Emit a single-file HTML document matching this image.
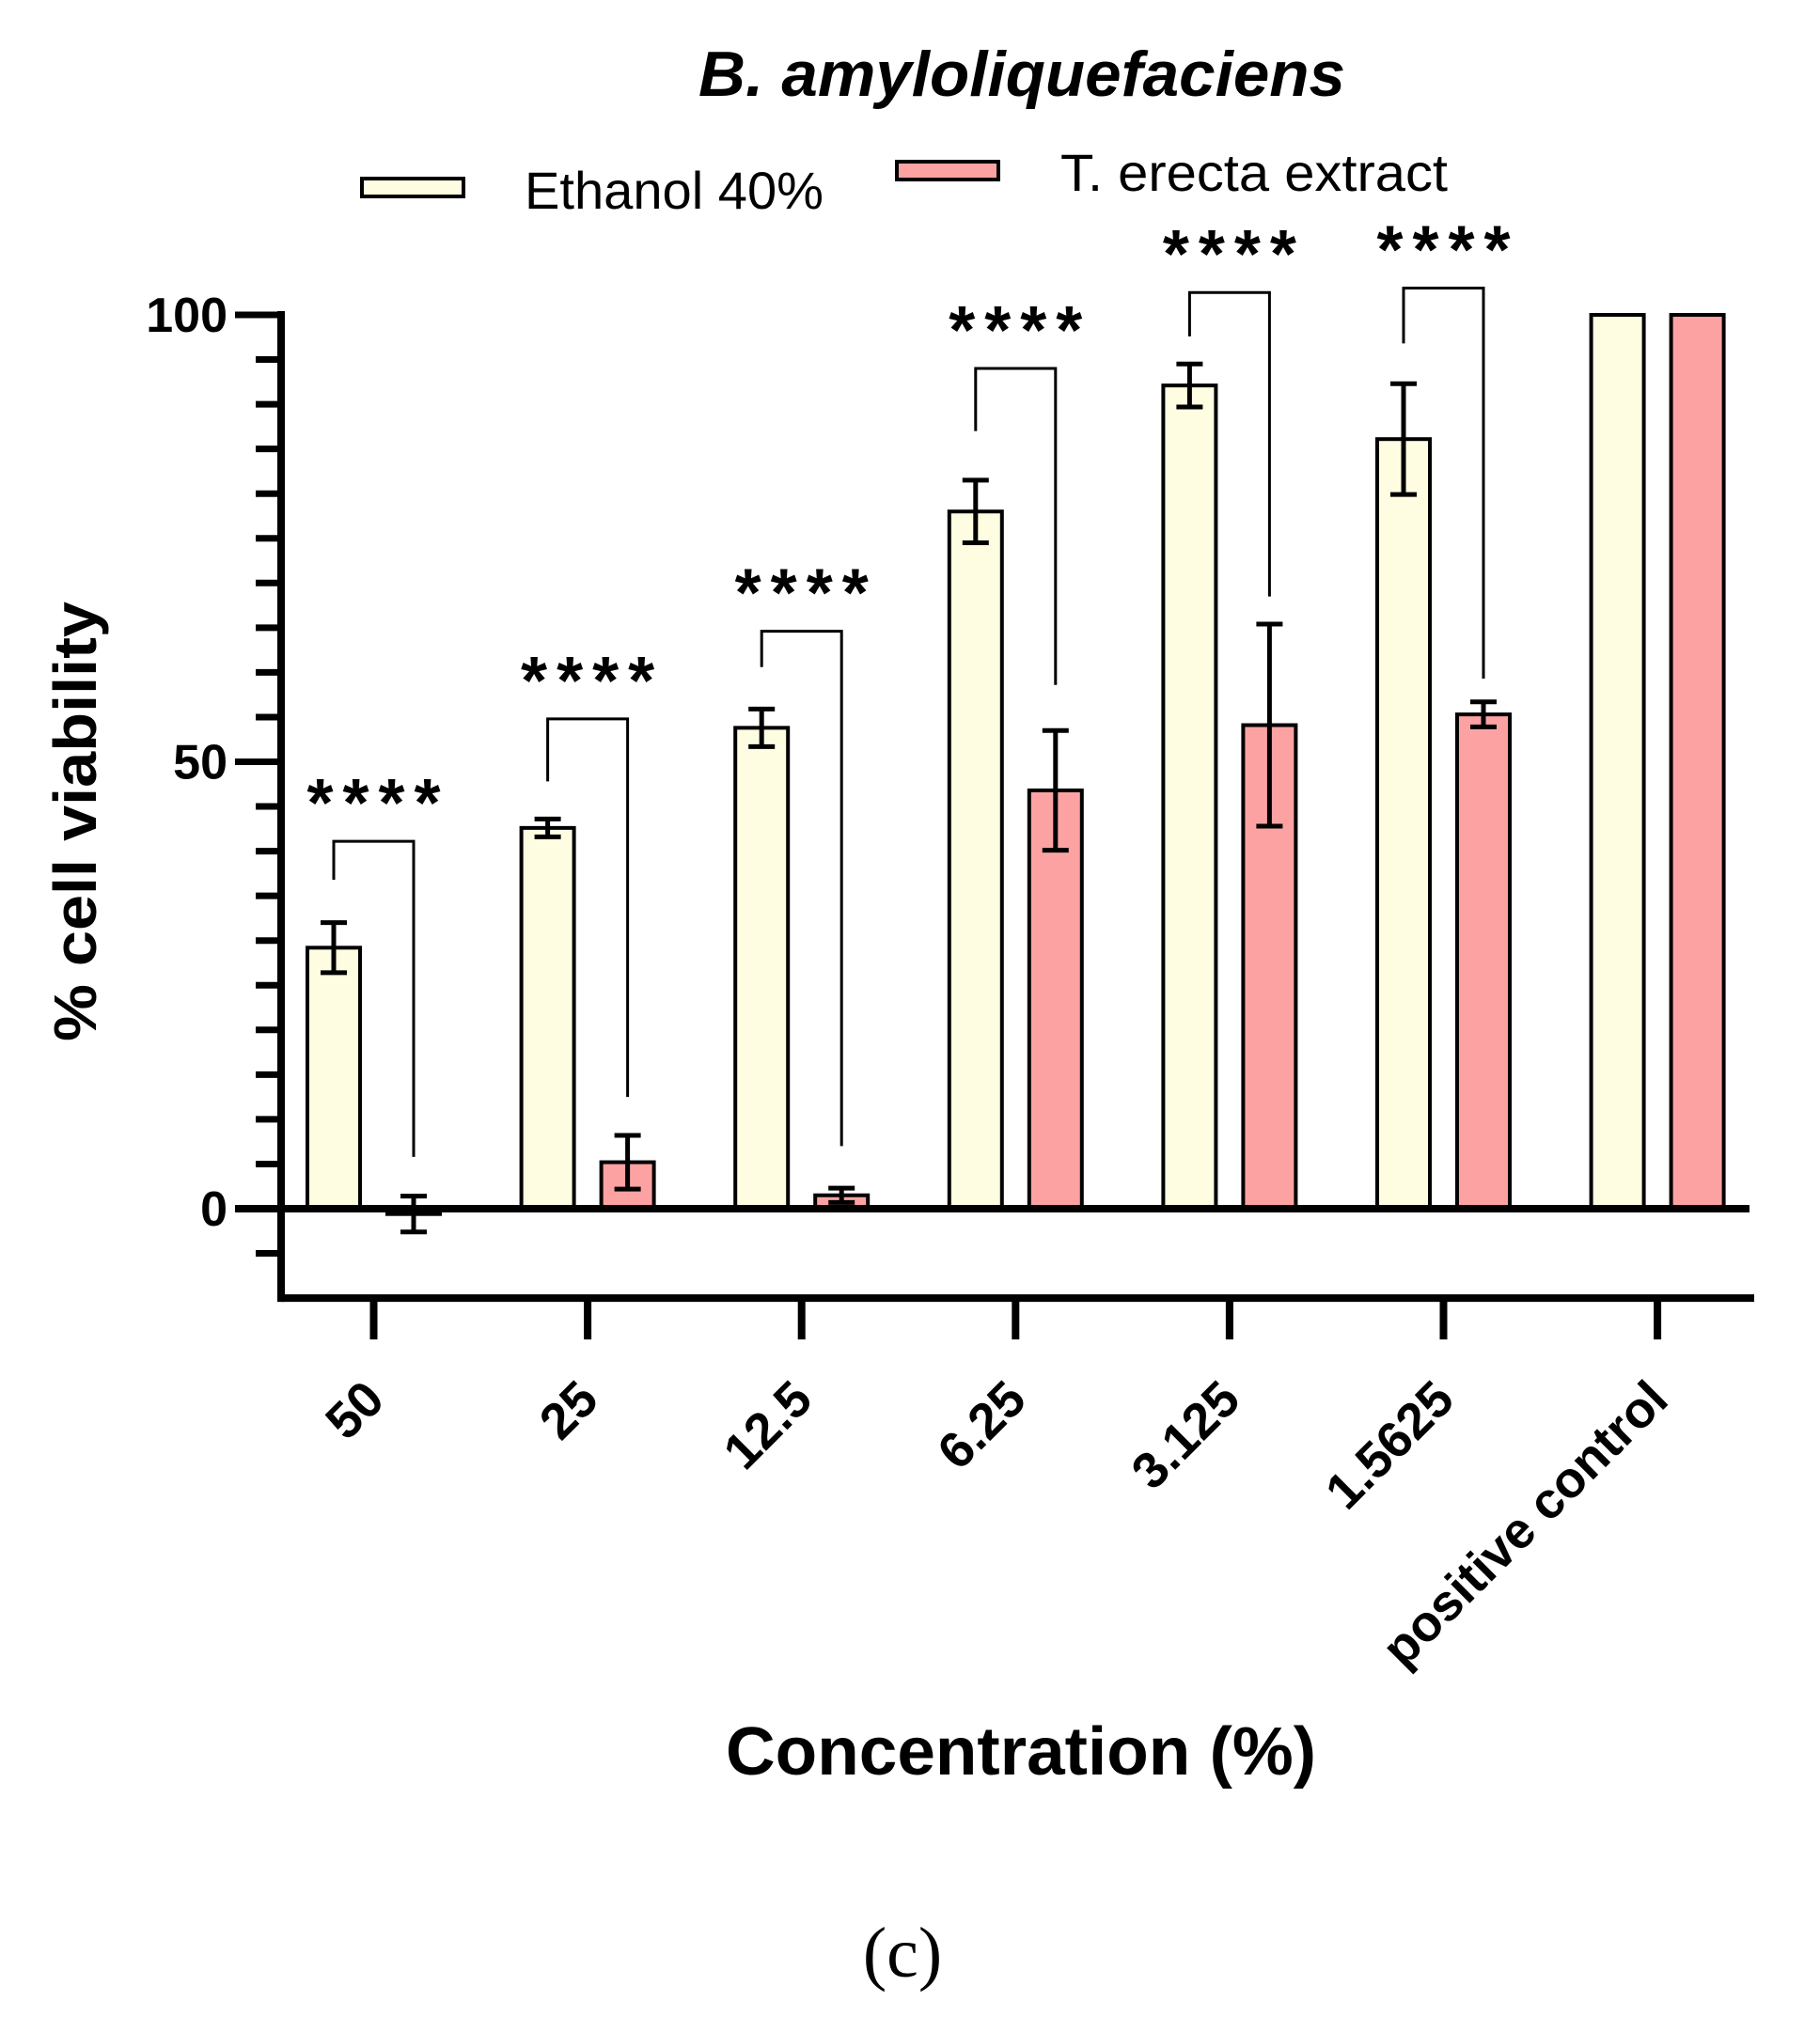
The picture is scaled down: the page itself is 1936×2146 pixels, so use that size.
<!DOCTYPE html>
<html><head><meta charset="utf-8"><style>
html,body{margin:0;padding:0;background:#fff;}
svg{display:block;}
text{font-family:"Liberation Sans",sans-serif;fill:#000;}
</style></head><body>
<svg id="chart" width="1936" height="2146" viewBox="0 0 1936 2146" xmlns="http://www.w3.org/2000/svg">
<text x="1087" y="102" font-size="68" font-weight="bold" font-style="italic" text-anchor="middle" textLength="688" lengthAdjust="spacingAndGlyphs">B. amyloliquefaciens</text>
<g>
<rect x="385" y="190" width="108" height="19" fill="#fefde2" stroke="#000" stroke-width="4"/>
<text x="558" y="222" font-size="56" textLength="318" lengthAdjust="spacingAndGlyphs">Ethanol 40%</text>
<rect x="954" y="172" width="108" height="19" fill="#fda2a2" stroke="#000" stroke-width="4"/>
<text x="1128" y="203" font-size="56" textLength="412" lengthAdjust="spacingAndGlyphs">T. erecta extract</text>
</g>
<g id="plot"></g>
<text transform="translate(102,874) rotate(-90)" font-size="64" font-weight="bold" text-anchor="middle" textLength="468" lengthAdjust="spacingAndGlyphs">% cell viability</text>
<text x="1086" y="1888" font-size="72" font-weight="bold" text-anchor="middle" textLength="628" lengthAdjust="spacingAndGlyphs">Concentration (%)</text>
<text x="960" y="2103" font-size="76" text-anchor="middle" style="font-family:'Liberation Serif',serif">(c)</text>
</svg>
<script>
const categories = ["50","25","12.5","6.25","3.125","1.5625","positive control"];
const ethanolMeans = [29.2, 42.6, 53.8, 78.0, 92.1, 86.1, 100];
const ethanolErr = [2.8, 1.0, 2.1, 3.5, 2.4, 6.2, 0];
const extractMeans = [-0.6, 5.2, 1.5, 46.8, 54.1, 55.3, 100];
const extractErr = [2.0, 3.0, 0.8, 6.7, 11.3, 1.4, 0];
const bracketTop = [41.1, 54.8, 64.6, 94.0, 102.5, 103.0];
const bracketLeftEnd = [36.8, 47.8, 60.6, 87.0, 97.6, 96.8];
const bracketRightEnd = [5.8, 12.5, 7.0, 58.6, 68.5, 59.3];
const sigLabels = ["****","****","****","****","****","****"];
const yMajorTicks = [0, 50, 100];
const yTickLabels = ["0","50","100"];

const NS = "http://www.w3.org/2000/svg";
const g = document.getElementById('plot');
const y0 = 1286, pxPerUnit = 9.51;
function yScale(v){ return y0 - v*pxPerUnit; }
const groupStart = 327, groupStep = 227.6, barW = 56, pinkOffset = 85;
function xEth(i){ return groupStart + i*groupStep; }
function xExt(i){ return xEth(i) + pinkOffset; }
function mk(tag, attrs){ const e = document.createElementNS(NS, tag); for (const k in attrs) e.setAttribute(k, attrs[k]); g.appendChild(e); return e; }

let e = mk('line',{x1:299,y1:yScale(100)-4,x2:299,y2:yScale(-10)+4,stroke:'#000','stroke-width':8});


for (let v = -5; v <= 100; v += 5) {
  const major = yMajorTicks.includes(v);
  e = mk('line',{x1: major?250:272, y1:yScale(v), x2:299, y2:yScale(v), stroke:'#000','stroke-width':7});
  
  
}
yMajorTicks.forEach((v,i)=>{
  const t = mk('text',{x:242,y:yScale(v)+18,'font-size':52,'font-weight':'bold','text-anchor':'end'});
  t.textContent = yTickLabels[i];
  
  
});
e = mk('line',{x1:299,y1:yScale(-10),x2:1866,y2:yScale(-10),stroke:'#000','stroke-width':8});



for (let i=0;i<categories.length;i++){
  const pairs = [[xEth(i), ethanolMeans[i], ethanolErr[i], '#fefde2','bar-ethanol'],[xExt(i), extractMeans[i], extractErr[i], '#fda2a2','bar-extract']];
  pairs.forEach(([x,v,err,fill,name])=>{
    const top = Math.min(yScale(v), y0), h = Math.abs(yScale(v)-y0);
    const r = mk('rect',{x:x,y:top,width:barW,height:h,fill:fill,stroke:'#000','stroke-width':4});
    
    
    if (err>0){
      const cx = x+barW/2;
      const l = mk('path',{d:`M${cx} ${yScale(v+err)}V${yScale(v-err)}M${cx-14} ${yScale(v+err)}H${cx+14}M${cx-14} ${yScale(v-err)}H${cx+14}`,stroke:'#000','stroke-width':5,fill:'none'});
      
      
    }
  });
  const tx = (xEth(i)+xExt(i)+barW)/2;
  e = mk('line',{x1:tx,y1:yScale(-10),x2:tx,y2:yScale(-10)+44,stroke:'#000','stroke-width':8});
  
  
  const t = mk('text',{transform:`translate(${tx+14},${1492}) rotate(-45)`,'font-size':54,'font-weight':'bold','text-anchor':'end'});
  t.textContent = categories[i];
  
  
}
e = mk('line',{x1:250,y1:y0,x2:1861,y2:y0,stroke:'#000','stroke-width':8});



for (let i=0;i<bracketTop.length;i++){
  const lx = xEth(i)+barW/2, rx = xExt(i)+barW/2;
  const p = mk('path',{d:`M${lx} ${yScale(bracketLeftEnd[i])}V${yScale(bracketTop[i])}H${rx}V${yScale(bracketRightEnd[i])}`,stroke:'#000','stroke-width':3,fill:'none'});
  
  
  const s = mk('text',{x:(lx+rx)/2+5,y:yScale(bracketTop[i])-16,'font-size':72,'font-weight':'bold','text-anchor':'middle','letter-spacing':'10'});
  s.textContent = sigLabels[i];
  
  
}
</script>
</body></html>
